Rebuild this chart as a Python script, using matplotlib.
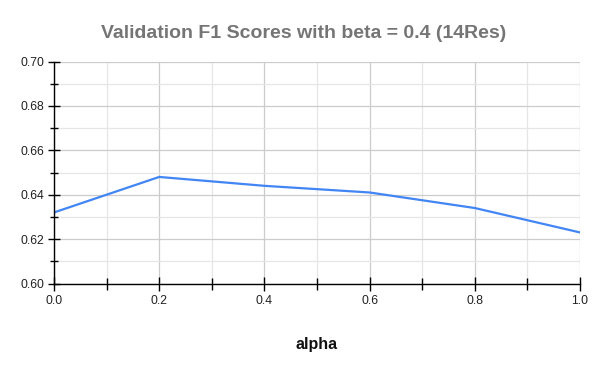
import matplotlib
matplotlib.use("Agg")
import matplotlib.pyplot as plt
from matplotlib.ticker import MultipleLocator, FormatStrFormatter

alpha = [0.0, 0.2, 0.4, 0.6, 0.8, 1.0]
f1 = [0.632, 0.648, 0.644, 0.641, 0.634, 0.623]

plt.rcParams['font.family'] = ['Liberation Sans', 'DejaVu Sans']

fig = plt.figure(figsize=(5.99, 3.71), dpi=100)
ax = fig.add_axes([54/599, 1-283.5/371, 526/599, 222/371])

ax.plot(alpha, f1, color='#4285F4', lw=1.6, solid_joinstyle='round')

ax.set_xlim(0, 1)
ax.set_ylim(0.60, 0.70)
ax.xaxis.set_major_locator(MultipleLocator(0.2))
ax.xaxis.set_minor_locator(MultipleLocator(0.1))
ax.yaxis.set_major_locator(MultipleLocator(0.02))
ax.yaxis.set_minor_locator(MultipleLocator(0.01))
ax.xaxis.set_major_formatter(FormatStrFormatter('%.1f'))
ax.yaxis.set_major_formatter(FormatStrFormatter('%.2f'))

ax.grid(which='major', color='#cccccc', lw=0.9)
ax.grid(which='minor', color='#e6e6e6', lw=0.9)
ax.set_axisbelow(True)

for s in ['top', 'right']:
    ax.spines[s].set_visible(False)
for s in ['left', 'bottom']:
    ax.spines[s].set_color('black')
    ax.spines[s].set_linewidth(1.0)

ax.tick_params(which='major', direction='inout', length=10, width=1, color='black', labelsize=8.8, labelcolor='#222222', pad=3)
ax.tick_params(which='minor', direction='inout', length=8, width=1, color='black')
ax.tick_params(axis='y', which='major', length=8)
ax.tick_params(axis='y', which='minor', length=6)

ax.set_xlabel('alpha', fontsize=11.5, fontweight='bold', color='#111111', labelpad=22)
fig.suptitle('Validation F1 Scores with beta = 0.4 (14Res)', x=304/599, y=1-33/371, va='center',
             fontsize=14, fontweight='bold', color='#757575')

fig.savefig('out.png', dpi=100)
